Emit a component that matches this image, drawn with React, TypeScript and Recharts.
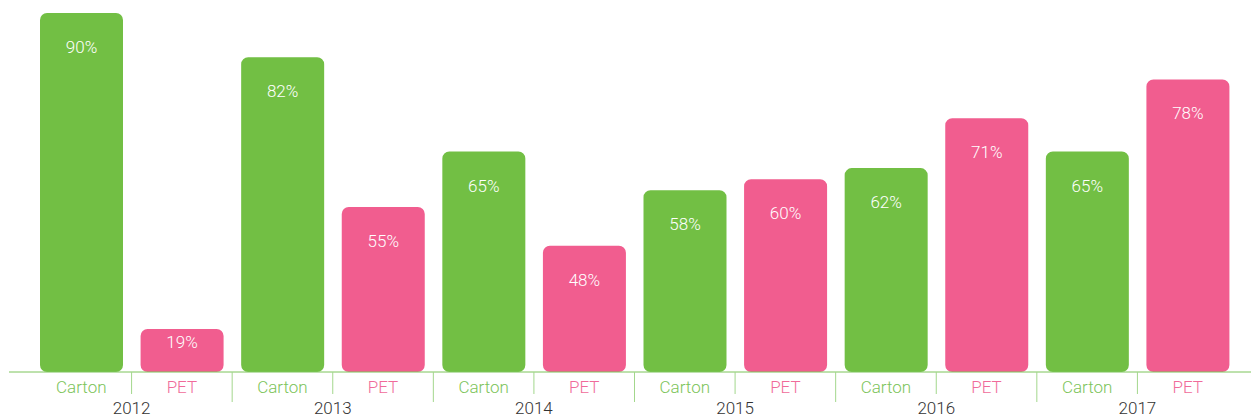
import { BarChart, Bar, XAxis, YAxis, Cell, Rectangle } from "recharts";

// Values
const years = ["2012", "2012", "2013", "2013", "2014", "2014", "2015", "2015", "2016", "2016", "2017", "2017"];
const categories = ["Carton", "PET", "Carton", "PET", "Carton", "PET", "Carton", "PET", "Carton", "PET", "Carton", "PET"];
const values = [90, 19, 82, 55, 65, 48, 58, 60, 62, 71, 65, 78];

const GREEN = "#72bf44";
const PINK = "#f15d8f";
const GREEN_TEXT = "#7cc45a";
const PINK_TEXT = "#f06b9a";
const SEPARATOR = "#a3d78c";
const FONT = "Roboto, 'Liberation Sans', sans-serif";

// smallest bar is drawn with a minimum height, like in the original
const MIN_BAR = 43;

const data = values.map((v, i) => ({
  cat: categories[i],
  year: years[i],
  value: v,
}));

const BarShape = (props: any) => {
  const { x, y, width, height, payload, fill } = props;
  const base = y + height;
  const h = Math.max(height, MIN_BAR);
  const top = base - h;
  const labelY = top + Math.min(34, h * 0.3) + 6;
  return (
    <g>
      <Rectangle x={x} y={top} width={width} height={h} radius={7} fill={fill} />
      <text
        x={x + width / 2}
        y={labelY}
        textAnchor="middle"
        fill="#fff"
        fontSize={17}
        fontWeight={300}
        fontFamily={FONT}
      >
        {`${payload.value}%`}
      </text>
    </g>
  );
};

const CategoryTick = (props: any) => {
  const { x, y, payload, index } = props;
  const half = payload?.offset ?? 50.3;
  const isCarton = index % 2 === 0;
  const last = index === data.length - 1;
  return (
    <g>
      <text
        x={x}
        y={y + 21}
        textAnchor="middle"
        fill={isCarton ? GREEN_TEXT : PINK_TEXT}
        fontSize={17}
        fontWeight={300}
        fontFamily={FONT}
      >
        {payload.value}
      </text>
      {!last && (
        <line
          x1={x + half}
          x2={x + half}
          y1={y}
          y2={y + (isCarton ? 22 : 30)}
          stroke={SEPARATOR}
          strokeWidth={1}
        />
      )}
      {isCarton && (
        <text
          x={x + half}
          y={y + 42}
          textAnchor="middle"
          fill="#333"
          fontSize={17}
          fontWeight={300}
          fontFamily={FONT}
        >
          {years[index]}
        </text>
      )}
    </g>
  );
};

export default function App() {
  return (
    <div style={{ position: "absolute", left: 0, top: 0 }}>
      <style>{`body { margin: 0; }`}</style>
      <BarChart
        width={1251}
        height={418}
        data={data}
        margin={{ top: 13, right: 0, bottom: 0, left: 9 }}
        barSize={83}
      >
        <XAxis
          dataKey="cat"
          height={46}
          padding={{ left: 22, right: 13 }}
          axisLine={{ stroke: GREEN_TEXT, strokeWidth: 1 }}
          tickLine={false}
          tickSize={0}
          tickMargin={0}
          interval={0}
          tick={<CategoryTick />}
        />
        <YAxis hide domain={[25.2, 90]} allowDataOverflow />
        <Bar dataKey="value" isAnimationActive={false} shape={<BarShape />}>
          {data.map((d, i) => (
            <Cell key={`cell-${i}`} fill={d.cat === "Carton" ? GREEN : PINK} />
          ))}
        </Bar>
      </BarChart>
    </div>
  );
}
